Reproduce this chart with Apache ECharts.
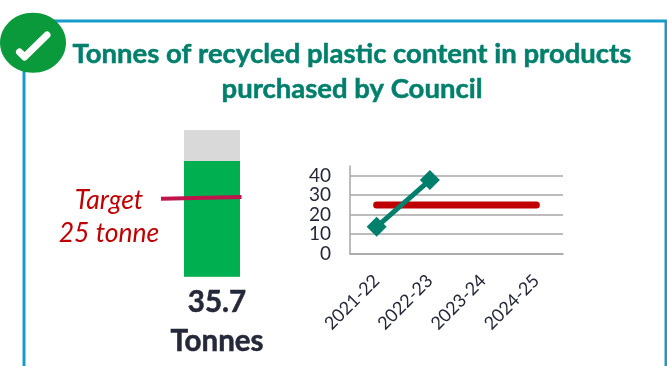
<!DOCTYPE html>
<html>
<head>
<meta charset="utf-8">
<style>html,body{margin:0;padding:0;background:#fff}#chart{width:667px;height:366px}</style>
<script src="https://cdn.jsdelivr.net/npm/echarts@6/dist/echarts.min.js"></script>
</head>
<body>
<div id="chart"></div>
<script>
// Recycled plastic purchased: total so far against target, and yearly trend
const years = ['2021-22', '2022-23', '2023-24', '2024-25'];
const trendValues = [13.8, 37.8, null, null];
const targetValues = [25, 25, 25, 25];
const yTicksMax = 45;
const purchased = 35.7;
const gaugeCapacity = 45.3;
const target = 25;

const TEAL = '#00806C', RED = '#C00000', INK = '#252838';
const FONT = 'Lato, "Open Sans", sans-serif';

const chart = echarts.init(document.getElementById('chart'), null, {renderer: 'canvas'});
chart.setOption({
  animation: false,
  backgroundColor: '#fff',
  title: [
    {text: 'Tonnes of recycled plastic content in products\npurchased by Council',
     left: 347, top: 32, textAlign: 'center',
     textStyle: {color: TEAL, fontFamily: FONT, fontWeight: 'bold', fontSize: 27.5, lineHeight: 35,
       textBorderColor: TEAL, textBorderWidth: 0.5}},
    {text: purchased + '\nTonnes', left: 212, top: 278, textAlign: 'center',
     textStyle: {color: INK, fontFamily: FONT, fontWeight: 'bold', fontSize: 29.5, lineHeight: 39,
       textBorderColor: INK, textBorderWidth: 0.5}},
    {text: 'Target\n' + target + ' tonne', left: 104, top: 178.5, textAlign: 'center',
     textStyle: {color: RED, fontFamily: FONT, fontStyle: 'italic', fontWeight: 'normal', fontSize: 26.5, lineHeight: 33}}
  ],
  graphic: [
    {type: 'rect', z: 0, shape: {x: 24, y: 21, width: 642, height: 420},
     style: {fill: 'none', stroke: '#169BCB', lineWidth: 3}},
    {type: 'ellipse', z: 10, shape: {cx: 33, cy: 42.7, rx: 33, ry: 30}, style: {fill: '#0A9A3C'}},
    {type: 'polyline', z: 11, shape: {points: [[19.5, 52], [24.5, 57], [47, 35]]},
     style: {fill: 'none', stroke: '#fff', lineWidth: 7, lineCap: 'round', lineJoin: 'round'}}
  ],
  grid: [
    {left: 184, top: 130, width: 56, height: 146.7},
    {left: 350, top: 166, width: 213, height: 87.7}
  ],
  xAxis: [
    {gridIndex: 0, type: 'category', data: ['Purchased'], show: false},
    {gridIndex: 1, type: 'category', data: years,
     axisLine: {lineStyle: {color: '#A6A6A6', width: 1.5}}, axisTick: {show: false},
     axisLabel: {interval: 0, rotate: 45, margin: 24, color: INK, fontFamily: FONT, fontSize: 18, hideOverlap: false}}
  ],
  yAxis: [
    {gridIndex: 0, type: 'value', min: 0, max: gaugeCapacity, show: false, splitLine: {show: false}},
    {gridIndex: 1, type: 'value', min: 0, max: yTicksMax, interval: 10,
     axisLine: {show: true, lineStyle: {color: '#A6A6A6', width: 1.5}}, axisTick: {show: false},
     axisLabel: {showMinLabel: true, showMaxLabel: false, hideOverlap: false, margin: 19, color: INK, fontFamily: FONT, fontSize: 19},
     splitLine: {show: true, showMaxLine: false, lineStyle: {color: '#A6A6A6', width: 1.5}}}
  ],
  series: [
    {type: 'bar', xAxisIndex: 0, yAxisIndex: 0, data: [gaugeCapacity], barWidth: '100%', barGap: '-100%',
     itemStyle: {color: '#D9D9D9'}, silent: true},
    {type: 'bar', xAxisIndex: 0, yAxisIndex: 0, data: [purchased], barWidth: '100%',
     itemStyle: {color: '#00B050'}, silent: true},
    // Target tick: crosses the bar and runs out towards its caption
    {type: 'custom', xAxisIndex: 0, yAxisIndex: 0, data: [[0, target]], z: 5, silent: true,
     renderItem(params, api) {
       const p = api.coord([api.value(0), api.value(1)]);
       return {type: 'line',
         shape: {x1: p[0] - 51, y1: p[1] + 3, x2: p[0] + 29.5, y2: p[1] + 1.3},
         style: {stroke: '#C0144C', lineWidth: 4}};
     }},
    {type: 'line', xAxisIndex: 1, yAxisIndex: 1, data: targetValues, symbol: 'none', z: 3, silent: true,
     lineStyle: {color: RED, width: 7, cap: 'round'}},
    {type: 'line', xAxisIndex: 1, yAxisIndex: 1, data: trendValues, symbol: 'diamond', symbolSize: 20, z: 4, silent: true,
     connectNulls: false, itemStyle: {color: TEAL}, lineStyle: {color: TEAL, width: 5}}
  ]
});
</script>
</body>
</html>
